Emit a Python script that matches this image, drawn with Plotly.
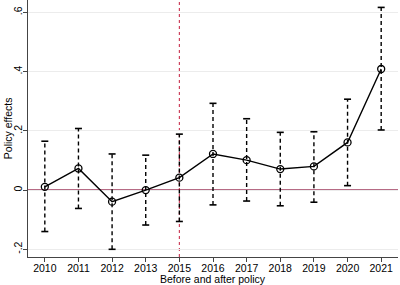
import plotly.graph_objects as go

years = ["2010", "2011", "2012", "2013", "2015", "2016", "2017", "2018", "2019", "2020", "2021"]
effects = [0.011, 0.073, -0.039, 0.000, 0.042, 0.122, 0.101, 0.071, 0.080, 0.161, 0.409]
ci_upper = [0.165, 0.208, 0.122, 0.118, 0.189, 0.293, 0.241, 0.195, 0.197, 0.307, 0.617]
ci_lower = [-0.140, -0.062, -0.200, -0.118, -0.106, -0.050, -0.037, -0.053, -0.041, 0.015, 0.203]
ytick_vals = [-0.2, 0, 0.2, 0.4, 0.6]
ytick_text = ["-.2", "0", ".2", ".4", ".6"]
policy_year = "2015"

pos = list(range(len(years)))

ex, ey = [], []
for p, lo, hi in zip(pos, ci_lower, ci_upper):
    ex += [p, p, None]
    ey += [lo, hi, None]

fig = go.Figure()
fig.add_trace(go.Scatter(x=ex, y=ey, mode="lines",
                         line=dict(color="black", width=1.4, dash="4px,3px"),
                         hoverinfo="skip", showlegend=False))
fig.add_trace(go.Scatter(x=pos + pos, y=ci_upper + ci_lower, mode="markers",
                         marker=dict(symbol="line-ew", size=5,
                                     line=dict(color="black", width=1.6)),
                         showlegend=False))
fig.add_trace(go.Scatter(x=pos, y=effects, mode="lines+markers",
                         line=dict(color="black", width=1.4),
                         marker=dict(symbol="circle-open", size=7,
                                     line=dict(color="black", width=1.3)),
                         showlegend=False))

fig.add_shape(type="line", xref="paper", yref="y", x0=0, x1=1, y0=0, y1=0,
              line=dict(color="#9e3a5c", width=1.8), layer="between")
px = years.index(policy_year)
fig.add_shape(type="line", xref="x", yref="paper", x0=px, x1=px, y0=0, y1=1,
              line=dict(color="#c8324f", width=1.1, dash="dot"), layer="between")

font = dict(family="Liberation Sans, Arial, sans-serif", size=10.5, color="black")
fig.add_annotation(text="Before and after policy", xref="paper", yref="paper",
                   x=0.5, y=-0.114, yanchor="bottom", xanchor="center",
                   showarrow=False, font=font, borderpad=0)
fig.add_annotation(text="Policy effects", xref="paper", yref="paper",
                   x=-0.055, y=0.5, xanchor="center", yanchor="middle",
                   textangle=-90, showarrow=False, font=font)

fig.update_layout(
    width=400, height=285,
    margin=dict(l=28, r=2, t=0, b=28, autoexpand=False),
    paper_bgcolor="white", plot_bgcolor="white",
    font=font,
    xaxis=dict(range=[-0.5, 10.5], tickvals=pos, ticktext=years, automargin=False,
               ticklabelstandoff=-3,
               showgrid=False, zeroline=False, showline=True,
               linecolor="#444", linewidth=1, ticks="outside", ticklen=4,
               tickcolor="#444"),
    yaxis=dict(range=[-0.226, 0.642], tickvals=ytick_vals, ticktext=ytick_text,
               automargin=False, ticklabelstandoff=-3,
               tickangle=-90, showgrid=True, gridcolor="#ececec", gridwidth=1,
               zeroline=False, showline=True, linecolor="#444", linewidth=1,
               ticks="outside", ticklen=4, tickcolor="#444"),
)
fig.write_html("out.html", config={"displayModeBar": False},
               post_script="document.body.style.margin='0px';")
